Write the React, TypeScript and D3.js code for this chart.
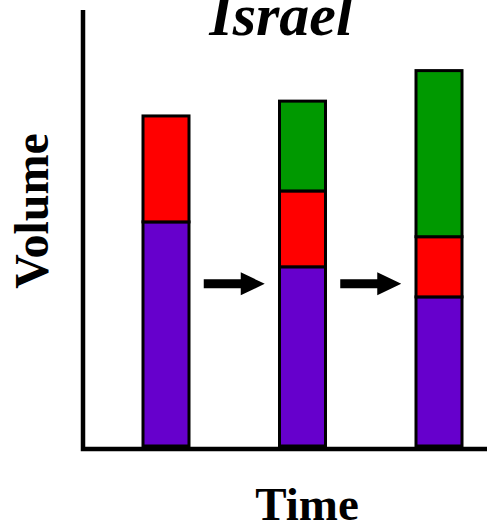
import React from "react";
import * as d3 from "d3";

const periods = ["T1", "T2", "T3"];
const purple = [51.4, 41.1, 34.2];
const red = [24.3, 17.4, 13.8];
const green = [0, 20.6, 38.1];
const seriesKeys = ["purple", "red", "green"];
const seriesColors = ["#6600CC", "#FF0000", "#009900"];

export default function App() {
  const W = 487, H = 526;
  const x = d3.scalePoint<string>().domain(periods).range([166, 439]);
  const y = d3.scaleLinear().domain([0, 100]).range([446, 10]);
  const barW = 46;
  const table = periods.map((p, i) => ({ p, purple: purple[i], red: red[i], green: green[i] }));
  const stacked = d3.stack<any>().keys(seriesKeys)(table);

  const arrowY = y(37.2);
  const arrows = periods.slice(0, -1).map((p, i) => {
    const mid = ((x(p) as number) + (x(periods[i + 1]) as number)) / 2;
    return mid;
  });

  const serif = "'Liberation Serif', 'Times New Roman', serif";

  return (
    <svg width={W} height={H} style={{ position: "absolute", left: 0, top: 0 }}>
      <rect width={W} height={H} fill="#fff" />
      {stacked.map((s, si) =>
        s.map((d, i) => {
          const h = y(d[0]) - y(d[1]);
          if (h <= 0) return null;
          return (
            <rect
              key={`${si}-${i}`}
              x={(x(periods[i]) as number) - barW / 2}
              y={y(d[1])}
              width={barW}
              height={h}
              fill={seriesColors[si]}
              stroke="#000"
              strokeWidth={3}
            />
          );
        })
      )}
      {arrows.map((m, i) => {
        const x0 = m - 30.5, x1 = m + 30.5, hl = 24, sh = 4.5, hh = 11.5;
        const d = `M${x0},${arrowY - sh} H${x1 - hl} V${arrowY - hh} L${x1},${arrowY} L${x1 - hl},${arrowY + hh} V${arrowY + sh} H${x0} Z`;
        return <path key={i} d={d} fill="#000" />;
      })}
      <path d={`M83,10 V449 H487`} fill="none" stroke="#000" strokeWidth={4.5} />
      <text x={281} y={35} textAnchor="middle" fontFamily={serif} fontWeight="bold" fontStyle="italic" fontSize={60}>Israel</text>
      <text x={307} y={520} textAnchor="middle" fontFamily={serif} fontWeight="bold" fontSize={47}>Time</text>
      <text transform="translate(48,211) rotate(-90)" textAnchor="middle" fontFamily={serif} fontWeight="bold" fontSize={48}>Volume</text>
    </svg>
  );
}
